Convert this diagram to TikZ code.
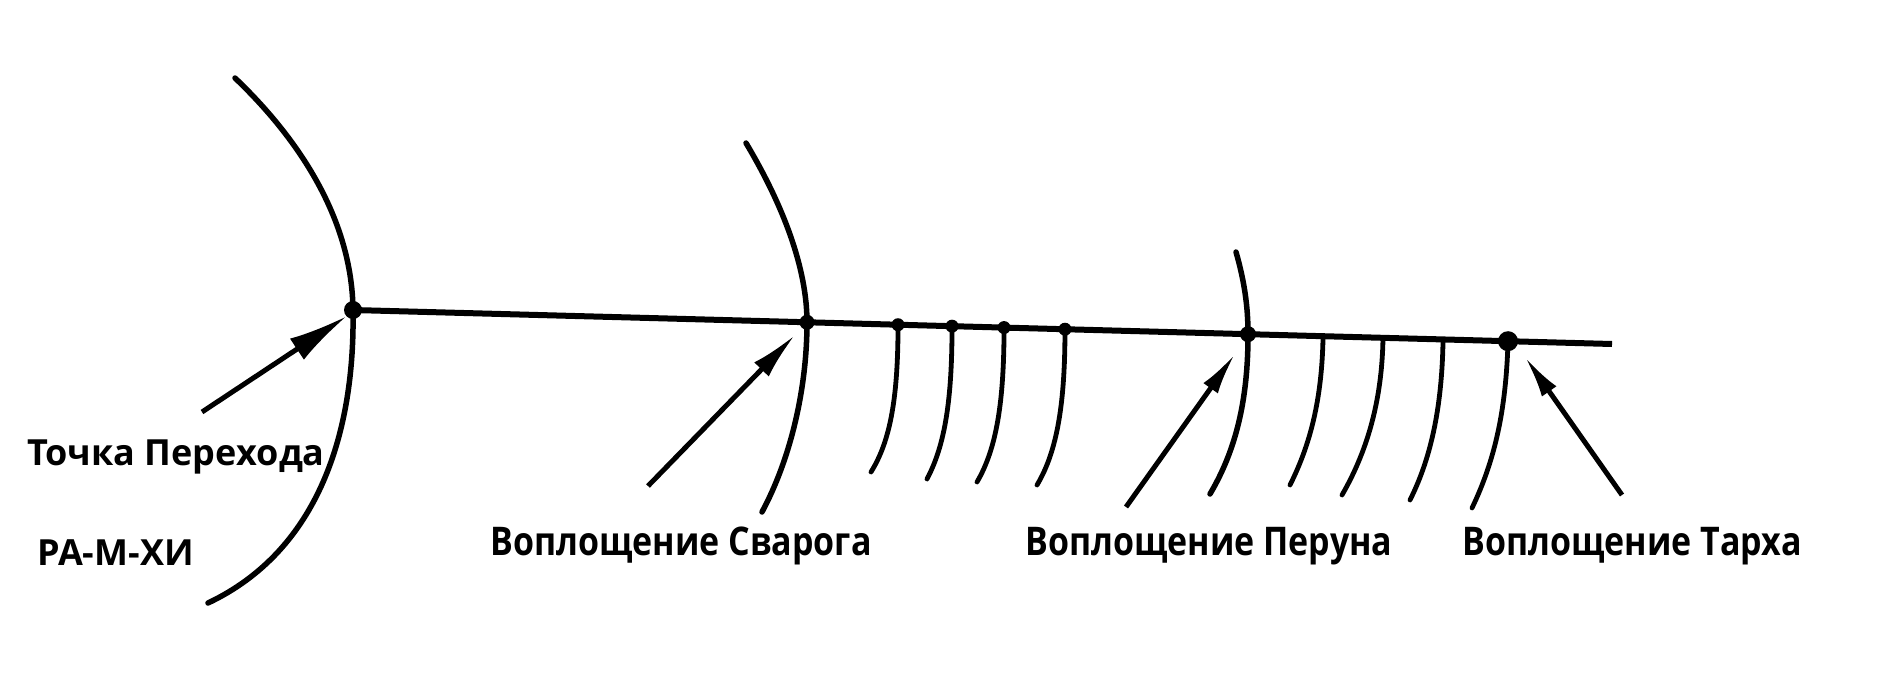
\documentclass[tikz,border=0pt]{standalone}
\usepackage{fontspec}
\setmainfont{Open Sans}
\newfontfamily\narrowfont{Open Sans}[FakeStretch=0.86]
\usetikzlibrary{arrows.meta,calc}
\tikzset{
  dot/.style={circle,fill=black,inner sep=0pt,minimum size=#1},
  dot/.default=12pt,
  spine/.style={line width=6pt},
  arcline/.style={line width=5.5pt,line cap=round},
  rib/.style={line width=4.8pt,line cap=round},
  pointer/.style={line width=5pt,-{Latex[length=#1,width=0.42*#1]}},
  pointer/.default=45pt,
  lbl/.style={font=\narrowfont\bfseries\fontsize{39.5}{44}\selectfont,inner sep=0pt,anchor=base west},
  lbll/.style={font=\bfseries\fontsize{36}{42}\selectfont,inner sep=0pt,anchor=base west}
}
\begin{document}
\begin{tikzpicture}[x=1pt,y=-1pt]
\useasboundingbox (0,0) rectangle (1903,680);
% main line end points
\coordinate (j1c) at (353,310);
\coordinate (endp) at (1612,344);
\draw[spine] (j1c) -- (endp);
% junction dots
\node[dot=18pt] (j1) at (j1c) {};
\node[dot=15pt] (sv) at ($(j1c)!0.3606!(endp)$) {};
\node[dot=13pt] (s1) at ($(j1c)!0.4329!(endp)$) {};
\node[dot=13pt] (s2) at ($(j1c)!0.4758!(endp)$) {};
\node[dot=13pt] (s3) at ($(j1c)!0.5171!(endp)$) {};
\node[dot=13pt] (s4) at ($(j1c)!0.5655!(endp)$) {};
\node[dot=16pt] (pe) at ($(j1c)!0.7109!(endp)$) {};
\coordinate (p1) at ($(j1c)!0.7705!(endp)$);
\coordinate (p2) at ($(j1c)!0.8181!(endp)$);
\coordinate (p3) at ($(j1c)!0.8658!(endp)$);
\node[dot=20pt] (ta) at ($(j1c)!0.9174!(endp)$) {};
% big arc (Точка Перехода)
\coordinate (bigtop) at (235,78);
\coordinate (bigbot) at (208,603);
\draw[arcline] (bigtop) .. controls (300,140) and (352,220) .. (j1.center)
  .. controls (355,430) and (320,550) .. (bigbot);
% Svarog arc
\coordinate (svtop) at (746,143);
\coordinate (svbot) at (762,512);
\draw[arcline] (svtop) .. controls (783,205) and (807,268) .. (sv.center)
  .. controls (807,390) and (790,460) .. (svbot);
% small ribs after Svarog
\coordinate (s1b) at (871,472);
\coordinate (s2b) at (927,479);
\coordinate (s3b) at (977,482);
\coordinate (s4b) at (1037,485);
\draw[rib] (s1.center) .. controls (898,395) and (891,440) .. (s1b);
\draw[rib] (s2.center) .. controls (952,400) and (945,445) .. (s2b);
\draw[rib] (s3.center) .. controls (1004,400) and (997,448) .. (s3b);
\draw[rib] (s4.center) .. controls (1065,400) and (1058,450) .. (s4b);
% Perun arc
\coordinate (petop) at (1236,252);
\coordinate (pebot) at (1210,494);
\draw[arcline] (petop) .. controls (1244,280) and (1248,305) .. (pe.center)
  .. controls (1248,400) and (1236,450) .. (pebot);
% ribs after Perun
\coordinate (p1b) at (1290,485);
\coordinate (p2b) at (1342,495);
\coordinate (p3b) at (1410,500);
\draw[rib] (p1) .. controls (1322,400) and (1310,445) .. (p1b);
\draw[rib] (p2) .. controls (1382,405) and (1365,455) .. (p2b);
\draw[rib] (p3) .. controls (1442,410) and (1430,460) .. (p3b);
% Tarkh rib
\coordinate (tab) at (1472,508);
\draw[rib] (ta.center) .. controls (1506,410) and (1495,460) .. (tab);
% arrows
\coordinate (a1t) at (202,412);
\coordinate (a1h) at (347,316);
\coordinate (a2t) at (648,486);
\coordinate (a2h) at (795,335);
\coordinate (a3t) at (1126,507);
\coordinate (a3h) at (1235,354);
\coordinate (a4t) at (1622,495);
\coordinate (a4h) at (1525,357);
\draw[pointer=60pt] (a1t) -- (a1h);
\draw[pointer=48pt] (a2t) -- (a2h);
\draw[pointer=42pt] (a3t) -- (a3h);
\draw[pointer=42pt] (a4t) -- (a4h);
% labels
\node[lbll] (tp) at (27,465) {Точка Перехода};
\node[lbll] (ram) at (37,565) {РА-М-ХИ};
\node[lbl] (lsv) at (490,555) {Воплощение Сварога};
\node[lbl] (lpe) at (1025,555) {Воплощение Перуна};
\node[lbl] (lta) at (1462,555) {Воплощение Тарха};
\end{tikzpicture}
\end{document}
